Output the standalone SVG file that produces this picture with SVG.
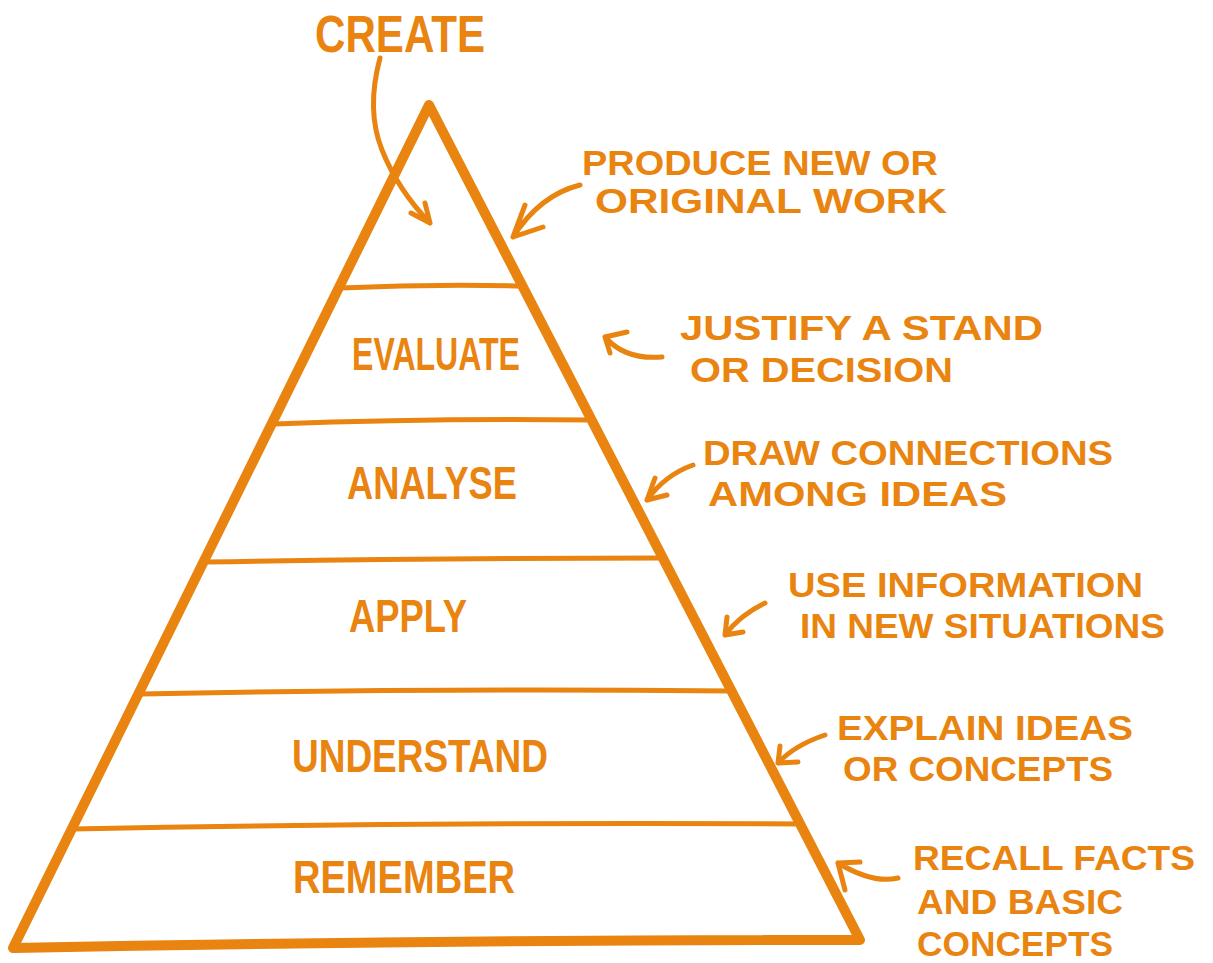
<svg xmlns="http://www.w3.org/2000/svg" width="1213" height="963" viewBox="0 0 1213 963">
<style>
.o{fill:none;stroke:#E8840F;stroke-linecap:round;stroke-linejoin:round}
.outline{stroke-width:10}
.tier{stroke-width:5}
.arr{stroke-width:5}
text{fill:#E8840F;font-family:"Liberation Sans",Arial,sans-serif;font-weight:bold}
.lv{font-size:46px}
.ds{font-size:35px}
</style>
<rect width="1213" height="963" fill="#ffffff"/>
<g id="pyramid">
<path class="o outline" d="M429,105 Q224,523 13,948 Q430,940 860,940 Q646,525 429,105 Z"/>
<path class="o tier" d="M340,288 Q430,284 522,286"/>
<path class="o tier" d="M274,424 Q430,418 591,420"/>
<path class="o tier" d="M206,562 Q440,558 663,558"/>
<path class="o tier" d="M140,694 Q440,688 731,691"/>
<path class="o tier" d="M73,829 Q440,822 800,824"/>
</g>
<g id="create"><text class="lv" x="315" y="52" textLength="170" lengthAdjust="spacingAndGlyphs" style="font-size:52px">CREATE</text></g>
<g id="evaluate"><text class="lv" x="352" y="370" textLength="168" lengthAdjust="spacingAndGlyphs">EVALUATE</text></g>
<g id="analyse"><text class="lv" x="347" y="499" textLength="170" lengthAdjust="spacingAndGlyphs">ANALYSE</text></g>
<g id="apply"><text class="lv" x="349" y="632" textLength="118" lengthAdjust="spacingAndGlyphs">APPLY</text></g>
<g id="understand"><text class="lv" x="292" y="772" textLength="256" lengthAdjust="spacingAndGlyphs">UNDERSTAND</text></g>
<g id="remember"><text class="lv" x="293" y="893" textLength="222" lengthAdjust="spacingAndGlyphs">REMEMBER</text></g>
<g id="desc-create">
<text class="ds" x="582" y="175" textLength="356" lengthAdjust="spacingAndGlyphs">PRODUCE NEW OR</text>
<text class="ds" x="595" y="213" textLength="352" lengthAdjust="spacingAndGlyphs">ORIGINAL WORK</text>
</g>
<g id="desc-evaluate">
<text class="ds" x="680" y="340" textLength="363" lengthAdjust="spacingAndGlyphs">JUSTIFY A STAND</text>
<text class="ds" x="690" y="382" textLength="263" lengthAdjust="spacingAndGlyphs">OR DECISION</text>
</g>
<g id="desc-analyse">
<text class="ds" x="703" y="465" textLength="410" lengthAdjust="spacingAndGlyphs">DRAW CONNECTIONS</text>
<text class="ds" x="708" y="506" textLength="299" lengthAdjust="spacingAndGlyphs">AMONG IDEAS</text>
</g>
<g id="desc-apply">
<text class="ds" x="788" y="597" textLength="355" lengthAdjust="spacingAndGlyphs">USE INFORMATION</text>
<text class="ds" x="800" y="638" textLength="365" lengthAdjust="spacingAndGlyphs">IN NEW SITUATIONS</text>
</g>
<g id="desc-understand">
<text class="ds" x="837" y="740" textLength="296" lengthAdjust="spacingAndGlyphs">EXPLAIN IDEAS</text>
<text class="ds" x="843" y="781" textLength="270" lengthAdjust="spacingAndGlyphs">OR CONCEPTS</text>
</g>
<g id="desc-remember">
<text class="ds" x="913" y="870" textLength="282" lengthAdjust="spacingAndGlyphs">RECALL FACTS</text>
<text class="ds" x="917" y="914" textLength="206" lengthAdjust="spacingAndGlyphs">AND BASIC</text>
<text class="ds" x="917" y="956" textLength="196" lengthAdjust="spacingAndGlyphs">CONCEPTS</text>
</g>
<g id="connectors">
<path class="o arr" d="M380,58 Q366,110 382,150 Q398,190 430,223 M430,223 L411,213 M430,223 L425,203"/>
<path class="o arr" d="M580,185 Q540,195 513,237 M513,237 L525,205 M513,237 L543,227"/>
<path class="o arr" d="M662,357 Q625,360 605,337 M605,337 L627,332 M605,337 L610,353"/>
<path class="o arr" d="M693,465 Q665,475 647,500 M647,500 L655,478 M647,500 L667,495"/>
<path class="o arr" d="M765,603 Q740,615 725,635 M725,635 L727,617 M725,635 L743,632"/>
<path class="o arr" d="M825,735 Q795,745 778,763 M778,763 L780,746 M778,763 L798,762"/>
<path class="o arr" d="M898,878 Q873,884 838,863 M838,863 L860,862 M838,863 L845,890"/>
</g>
</svg>
